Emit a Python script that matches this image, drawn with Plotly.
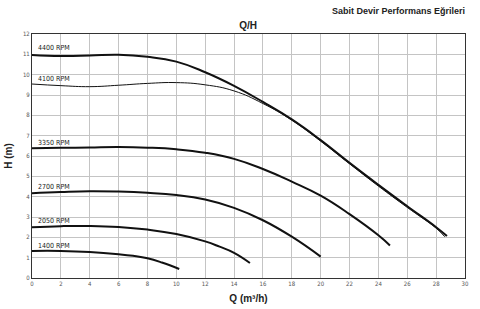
import plotly.graph_objects as go

# Data (Q in m3/h, H in m)
q_4400 = [0, 2, 4, 6, 8, 10, 12, 14, 16, 18, 20, 22, 24, 26, 28, 28.75]
h_4400 = [10.97, 10.92, 10.94, 10.98, 10.88, 10.64, 10.12, 9.45, 8.66, 7.8, 6.78, 5.66, 4.58, 3.53, 2.5, 2.06]

q_4100 = [0, 2, 4, 6, 8, 10, 12, 14, 16, 18, 20, 22, 24, 26, 28, 28.6]
h_4100 = [9.54, 9.46, 9.41, 9.48, 9.57, 9.61, 9.5, 9.2, 8.58, 7.76, 6.73, 5.62, 4.52, 3.47, 2.45, 2.03]

q_3350 = [0, 2, 4, 6, 8, 10, 12, 14, 16, 18, 20, 22, 24, 24.8]
h_3350 = [6.38, 6.4, 6.42, 6.44, 6.41, 6.33, 6.16, 5.86, 5.36, 4.74, 4.05, 3.14, 2.1, 1.6]

q_2700 = [0, 2, 4, 6, 8, 10, 12, 14, 16, 18, 20]
h_2700 = [4.17, 4.23, 4.27, 4.25, 4.19, 4.08, 3.86, 3.45, 2.84, 2.03, 1.05]

q_2050 = [0, 2, 4, 6, 8, 10, 12, 13, 14, 15.1]
h_2050 = [2.5, 2.55, 2.56, 2.51, 2.38, 2.16, 1.8, 1.54, 1.24, 0.74]

q_1400 = [0, 2, 4, 6, 7, 8, 9, 10.2]
h_1400 = [1.33, 1.33, 1.28, 1.17, 1.09, 0.97, 0.76, 0.44]

curve_names = ["4400 RPM", "4100 RPM", "3350 RPM", "2700 RPM", "2050 RPM", "1400 RPM"]
label_h = [11.3, 9.8, 6.64, 4.48, 2.8, 1.57]

x_ticks = list(range(0, 31, 2))
y_ticks = list(range(0, 13, 1))

series = [
    (q_4400, h_4400, 2.0),
    (q_4100, h_4100, 1.0),
    (q_3350, h_3350, 2.0),
    (q_2700, h_2700, 2.0),
    (q_2050, h_2050, 2.0),
    (q_1400, h_1400, 2.0),
]

narrow = "Liberation Sans Narrow, Arial Narrow, DejaVu Sans Condensed, sans-serif"
bold = "Liberation Sans, Arial, sans-serif"

fig = go.Figure()
for (q, h, w), name in zip(series, curve_names):
    fig.add_trace(go.Scatter(
        x=q, y=h, mode="lines", name=name,
        line=dict(color="#111111", width=w, shape="spline", smoothing=1.3),
        showlegend=False, hoverinfo="skip",
    ))

for name, yh in zip(curve_names, label_h):
    fig.add_annotation(x=0.25, y=yh, xref="x", yref="y", text=name,
                       showarrow=False, xanchor="left", yanchor="middle",
                       font=dict(family=narrow, size=7, color="#222222"))

plot_top, plot_bottom, plot_left, plot_right = 34, 278, 32, 465
ph = plot_bottom - plot_top
pw = plot_right - plot_left

fig.update_layout(
    width=480, height=309,
    margin=dict(l=plot_left, r=480 - plot_right, t=plot_top, b=309 - plot_bottom, autoexpand=False),
    paper_bgcolor="white", plot_bgcolor="white",
    title=dict(text="<b>Q/H</b>", x=0.517, xanchor="center", y=1 - 25 / 309, yanchor="middle",
               font=dict(family=bold, size=10, color="#222222")),
    xaxis=dict(range=[0, 30], tickvals=x_ticks, ticktext=[str(t) for t in x_ticks],
               showgrid=True, gridcolor="#c4c4c4", gridwidth=1,
               showline=True, linecolor="#333333", linewidth=1, mirror=True,
               zeroline=False, ticks="", automargin=False,
               tickfont=dict(family=narrow, size=6, color="#555555"),
               title=dict(text="<b>Q (m³/h)</b>", standoff=8,
                          font=dict(family=bold, size=10, color="#222222"))),
    yaxis=dict(range=[0, 12], tickvals=y_ticks, ticktext=[str(t) for t in y_ticks],
               showgrid=True, gridcolor="#c4c4c4", gridwidth=1,
               showline=True, linecolor="#333333", linewidth=1, mirror=True,
               zeroline=False, ticks="", automargin=False,
               tickfont=dict(family=narrow, size=6, color="#555555"),
               title=dict(text="<b>H (m)</b>", standoff=8,
                          font=dict(family=bold, size=10, color="#222222"))),
)

fig.add_annotation(
    x=(467 - plot_left) / pw, y=(plot_bottom - 11) / ph, xref="paper", yref="paper",
    xanchor="right", yanchor="middle", showarrow=False,
    text="<b>Sabit Devir Performans Eğrileri</b>",
    font=dict(family=bold, size=9, color="#222222"),
)

fig.write_html("out.html")
